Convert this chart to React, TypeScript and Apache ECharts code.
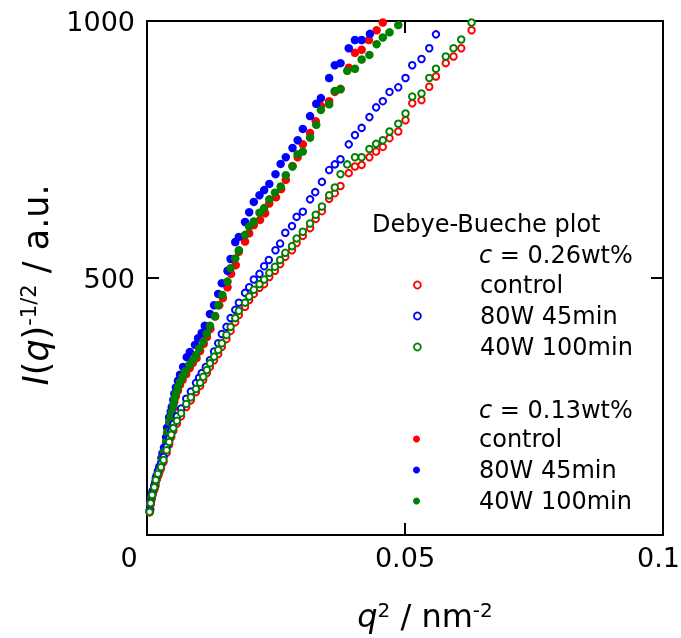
import React, { useEffect, useRef } from "react";
import * as echarts from "echarts";

const FONT = "DejaVu Sans";

const xTicks = [0, 0.05, 0.1];
const yTicks = [0, 500, 1000];

const legendLabels = ["control", "80W 45min", "40W 100min"];
const groupLabels = ["c = 0.26wt%", "c = 0.13wt%"];
const colors = ["#ff0000", "#0000ff", "#008000"];

// c = 0.13wt% (filled)
const filledControl: number[][] = [
  [0.0006, 47], [0.0007, 60], [0.0009, 70], [0.0011, 80], [0.0014, 88], [0.0016, 95], [0.0019, 108], [0.0022, 116],
  [0.0024, 123], [0.0028, 138], [0.003, 147], [0.0033, 157], [0.0037, 176], [0.0039, 195], [0.0043, 214], [0.0046, 224],
  [0.0048, 233], [0.0051, 247], [0.0053, 259], [0.0056, 270], [0.006, 281], [0.0064, 292], [0.0069, 302], [0.0076, 313],
  [0.0083, 325], [0.0089, 335], [0.0096, 344], [0.0103, 358], [0.011, 372], [0.0116, 385], [0.0123, 401], [0.0132, 425],
  [0.014, 447], [0.0147, 461], [0.0156, 482], [0.0163, 508], [0.0172, 525], [0.0178, 551], [0.019, 571], [0.0198, 587],
  [0.0207, 603], [0.0219, 613], [0.0229, 626], [0.0237, 645], [0.025, 657], [0.026, 673], [0.0269, 691], [0.0282, 718],
  [0.0292, 735], [0.0302, 760], [0.0316, 782], [0.0327, 805], [0.0337, 835], [0.0353, 844], [0.0364, 862], [0.0375, 868],
  [0.0391, 909], [0.0403, 938], [0.0416, 944], [0.043, 963], [0.0445, 982], [0.0457, 997],
];
const filled80W: number[][] = [
  [0.0006, 51], [0.0007, 64], [0.0009, 75], [0.0011, 86], [0.0014, 94], [0.0016, 102], [0.0019, 116], [0.0022, 125],
  [0.0024, 133], [0.0028, 150], [0.003, 159], [0.0033, 170], [0.0037, 190], [0.0039, 209], [0.0043, 229], [0.0046, 240],
  [0.0048, 249], [0.0051, 263], [0.0053, 275], [0.0056, 287], [0.006, 300], [0.0064, 312], [0.007, 327], [0.0077, 346],
  [0.0083, 356], [0.0093, 370], [0.0099, 383], [0.0106, 393], [0.0112, 407], [0.0122, 430], [0.013, 447], [0.0138, 469],
  [0.0145, 490], [0.0156, 514], [0.0162, 537], [0.0171, 570], [0.0178, 580], [0.019, 609], [0.0198, 628], [0.0207, 648],
  [0.0218, 661], [0.0227, 671], [0.0237, 683], [0.0249, 702], [0.0259, 722], [0.0269, 735], [0.0282, 753], [0.0292, 768],
  [0.0302, 790], [0.0316, 815], [0.0328, 839], [0.0337, 850], [0.0353, 889], [0.0364, 914], [0.0375, 918], [0.0391, 947],
  [0.0403, 963], [0.0416, 963], [0.0432, 975],
];
const filled40W: number[][] = [
  [0.0006, 49], [0.0007, 62], [0.0009, 72], [0.0011, 82], [0.0014, 90], [0.0016, 97], [0.0019, 111], [0.0022, 119],
  [0.0024, 126], [0.0028, 142], [0.003, 151], [0.0033, 161], [0.0037, 181], [0.0039, 200], [0.0043, 220], [0.0046, 230],
  [0.0048, 239], [0.0051, 253], [0.0053, 265], [0.0056, 276], [0.006, 288], [0.0064, 298], [0.0069, 308], [0.0074, 318],
  [0.0082, 331], [0.0089, 340], [0.0095, 350], [0.0101, 363], [0.0109, 376], [0.0116, 392], [0.0122, 407], [0.0132, 426],
  [0.0138, 447], [0.0146, 467], [0.0156, 493], [0.0162, 519], [0.0171, 538], [0.0178, 554], [0.019, 584], [0.0198, 600],
  [0.0207, 610], [0.0218, 627], [0.0227, 636], [0.0237, 653], [0.0248, 666], [0.0259, 678], [0.0269, 700], [0.0282, 717],
  [0.0292, 741], [0.0302, 746], [0.0316, 773], [0.0328, 798], [0.0337, 827], [0.0353, 838], [0.0364, 864], [0.0375, 867],
  [0.0388, 903], [0.0403, 907], [0.0416, 925], [0.0431, 934], [0.0445, 955], [0.0457, 968], [0.047, 978], [0.0487, 992],
];

// c = 0.26wt% (open)
const openControl: number[][] = [
  [0.0005, 44], [0.0007, 60], [0.001, 76], [0.0014, 90], [0.0017, 104], [0.0021, 116], [0.0027, 129], [0.0032, 142],
  [0.0038, 160], [0.0043, 176], [0.0047, 190], [0.0051, 203], [0.0058, 217], [0.0066, 231], [0.0076, 249], [0.0085, 262],
  [0.0095, 278], [0.0103, 290], [0.0109, 302], [0.0116, 315], [0.0122, 327], [0.013, 340], [0.0138, 352], [0.0145, 366],
  [0.0154, 381], [0.0162, 397], [0.0171, 414], [0.0178, 428], [0.019, 444], [0.0198, 457], [0.0207, 469], [0.0218, 481],
  [0.0227, 488], [0.0237, 502], [0.0248, 514], [0.0258, 527], [0.0268, 541], [0.0281, 554], [0.029, 568], [0.0302, 582],
  [0.0316, 597], [0.0327, 615], [0.0339, 630], [0.0353, 654], [0.0364, 665], [0.0375, 679], [0.0391, 704], [0.0403, 717],
  [0.0416, 720], [0.0431, 735], [0.0444, 746], [0.0457, 755], [0.047, 772], [0.0487, 785], [0.0501, 807], [0.0514, 840],
  [0.0532, 846], [0.0547, 872], [0.056, 892], [0.0579, 918], [0.0594, 931], [0.0609, 947], [0.0629, 982],
];
const open80W: number[][] = [
  [0.0005, 47], [0.0007, 64], [0.001, 81], [0.0014, 96], [0.0017, 111], [0.0021, 124], [0.0027, 138], [0.0032, 152],
  [0.0038, 172], [0.0043, 188], [0.0047, 202], [0.0051, 216], [0.0058, 231], [0.0066, 246], [0.0076, 265], [0.0085, 279],
  [0.0095, 296], [0.0101, 306], [0.0106, 315], [0.0114, 327], [0.0122, 340], [0.013, 357], [0.0138, 373], [0.0145, 391],
  [0.0154, 405], [0.0162, 422], [0.0171, 438], [0.0178, 452], [0.019, 471], [0.0198, 482], [0.0207, 497], [0.0218, 508],
  [0.0227, 523], [0.0236, 535], [0.0249, 554], [0.0258, 567], [0.0268, 588], [0.0281, 601], [0.029, 619], [0.0302, 629],
  [0.0316, 653], [0.0326, 667], [0.0339, 687], [0.0353, 710], [0.0364, 721], [0.0375, 731], [0.0391, 760], [0.0403, 778],
  [0.0416, 792], [0.0431, 813], [0.0444, 832], [0.0457, 844], [0.047, 862], [0.0487, 871], [0.0501, 889], [0.0514, 914],
  [0.0532, 926], [0.0547, 947], [0.056, 974],
];
const open40W: number[][] = [
  [0.0005, 45], [0.0007, 62], [0.001, 78], [0.0014, 93], [0.0017, 107], [0.0021, 119], [0.0027, 132], [0.0032, 146],
  [0.0038, 165], [0.0043, 181], [0.0047, 195], [0.0051, 208], [0.0058, 222], [0.0066, 237], [0.0076, 255], [0.0085, 268],
  [0.0095, 284], [0.0103, 296], [0.0109, 308], [0.0116, 321], [0.0122, 334], [0.013, 347], [0.0138, 360], [0.0145, 373],
  [0.0154, 389], [0.0162, 405], [0.0171, 422], [0.0178, 436], [0.019, 452], [0.0198, 464], [0.0207, 477], [0.0218, 488],
  [0.0227, 497], [0.0237, 510], [0.0248, 522], [0.0258, 535], [0.0268, 549], [0.0281, 562], [0.029, 577], [0.0302, 590],
  [0.0316, 606], [0.0327, 623], [0.0339, 639], [0.0353, 661], [0.0364, 676], [0.0375, 702], [0.0388, 721], [0.0403, 735],
  [0.0416, 735], [0.0431, 751], [0.0444, 761], [0.0457, 768], [0.047, 785], [0.0487, 800], [0.0501, 820], [0.0514, 853],
  [0.0532, 859], [0.0547, 889], [0.056, 907], [0.0579, 931], [0.0594, 947], [0.0609, 964], [0.0629, 997],
];

const openSeries = [openControl, open80W, open40W];
const filledSeries = [filledControl, filled80W, filled40W];

export default function App() {
  const ref = useRef<HTMLDivElement>(null);
  useEffect(() => {
    if (!ref.current) return;
    const chart = echarts.init(ref.current, null, { renderer: "svg" });
    const openNames = legendLabels.map((l) => `${l} (0.26wt%)`);
    const filledNames = legendLabels.map((l) => `${l} (0.13wt%)`);
    const axisCommon = {
      type: "value",
      axisLine: { show: true, onZero: false, lineStyle: { color: "#000", width: 2 } },
      axisTick: { show: true, inside: true, length: 12, lineStyle: { color: "#000", width: 2 } },
      splitLine: { show: false },
    };
    const series: any[] = [];
    filledSeries.forEach((d, i) => {
      series.push({
        name: filledNames[i],
        type: "scatter",
        data: d,
        symbol: "circle",
        symbolSize: 8.5,
        itemStyle: { color: colors[i], opacity: 1 },
        z: 2,
      });
    });
    openSeries.forEach((d, i) => {
      series.push({
        name: openNames[i],
        type: "scatter",
        data: d,
        symbol: "circle",
        symbolSize: 6.5,
        itemStyle: { color: "#ffffff", borderColor: colors[i], borderWidth: 2, opacity: 1 },
        z: 3,
      });
    });
    const legendCommon = {
      orient: "vertical",
      left: 413,
      padding: 0,
      itemWidth: 7,
      itemHeight: 7,
      itemGap: 7,
      icon: "circle",
      selectedMode: false,
      formatter: (name: string) => name.replace(/ \(.*\)$/, ""),
      textStyle: { fontFamily: FONT, fontSize: 24, color: "#000", lineHeight: 24, padding: [0, 0, 0, 54] },
    };
    chart.setOption({
      animation: false,
      textStyle: { fontFamily: FONT },
      grid: { left: 147, right: 18, top: 21, bottom: 103, containLabel: false, outerBoundsMode: "none" },
      xAxis: [
        {
          ...axisCommon,
          position: "bottom",
          min: xTicks[0],
          max: xTicks[2],
          interval: xTicks[1] - xTicks[0],
          axisLabel: {
            fontFamily: FONT,
            fontSize: 27,
            color: "#000",
            margin: 9,
            showMaxLabel: true,
            formatter: (v: number) =>
              v === xTicks[0] ? "{z|0}" : v === xTicks[2] ? `{m|${v}}` : String(v),
            rich: {
              z: { fontFamily: FONT, fontSize: 27, color: "#000", padding: [0, 36, 0, 0] },
              m: { fontFamily: FONT, fontSize: 27, color: "#000", padding: [0, 9, 0, 0] },
            },
          },
        },
        {
          ...axisCommon,
          position: "top",
          min: xTicks[0],
          max: xTicks[2],
          interval: xTicks[1] - xTicks[0],
          axisLabel: { show: false },
        },
      ],
      yAxis: [
        {
          ...axisCommon,
          position: "left",
          min: yTicks[0],
          max: yTicks[2],
          interval: yTicks[1] - yTicks[0],
          axisLabel: {
            fontFamily: FONT,
            fontSize: 27,
            color: "#000",
            margin: 12,
            formatter: (v: number) => (v === 0 ? "" : String(v)),
          },
        },
        {
          ...axisCommon,
          position: "right",
          min: yTicks[0],
          max: yTicks[2],
          interval: yTicks[1] - yTicks[0],
          axisLabel: { show: false },
        },
      ],
      legend: [
        {
          ...legendCommon,
          top: 273,
          data: openNames.map((n, i) => ({
            name: n,
            icon: "circle",
            itemStyle: { color: "#ffffff", borderColor: colors[i], borderWidth: 1.8 },
          })),
        },
        {
          ...legendCommon,
          top: 427,
          data: filledNames.map((n, i) => ({
            name: n,
            icon: "circle",
            itemStyle: { color: colors[i], borderWidth: 0 },
          })),
        },
      ],
      graphic: [
        {
          type: "text",
          left: 372,
          top: 212,
          style: { text: "Debye-Bueche plot", fontFamily: FONT, fontSize: 24, fill: "#000" },
        },
        {
          type: "text",
          left: 479,
          top: 243,
          style: {
            text: "{i|c}" + groupLabels[0].slice(1),
            fontFamily: FONT,
            fontSize: 24,
            fill: "#000",
            rich: { i: { fontStyle: "italic", fontFamily: FONT, fontSize: 24 } },
          },
        },
        {
          type: "text",
          left: 479,
          top: 398,
          style: {
            text: "{i|c}" + groupLabels[1].slice(1),
            fontFamily: FONT,
            fontSize: 24,
            fill: "#000",
            rich: { i: { fontStyle: "italic", fontFamily: FONT, fontSize: 24 } },
          },
        },
        {
          type: "text",
          x: 425,
          y: 616,
          style: {
            text: "{i|q}{s|2} / nm{s|-2}",
            fontFamily: FONT,
            fontSize: 32,
            fill: "#000",
            align: "center",
            verticalAlign: "middle",
            rich: {
              i: { fontStyle: "italic", fontFamily: FONT, fontSize: 32 },
              s: { fontFamily: FONT, fontSize: 20, verticalAlign: "top" },
            },
          },
        },
        {
          type: "text",
          x: 36,
          y: 285,
          rotation: Math.PI / 2,
          style: {
            text: "{i|I}({i|q}){s|-1/2} / a.u.",
            fontFamily: FONT,
            fontSize: 35,
            fill: "#000",
            align: "center",
            verticalAlign: "middle",
            rich: {
              i: { fontStyle: "italic", fontFamily: FONT, fontSize: 35 },
              s: { fontFamily: FONT, fontSize: 21, verticalAlign: "top" },
            },
          },
        },
      ],
      series,
    });
    return () => chart.dispose();
  }, []);
  return (
    <div
      ref={ref}
      style={{ width: 681, height: 638, position: "fixed", left: 0, top: 0 }}
    />
  );
}
